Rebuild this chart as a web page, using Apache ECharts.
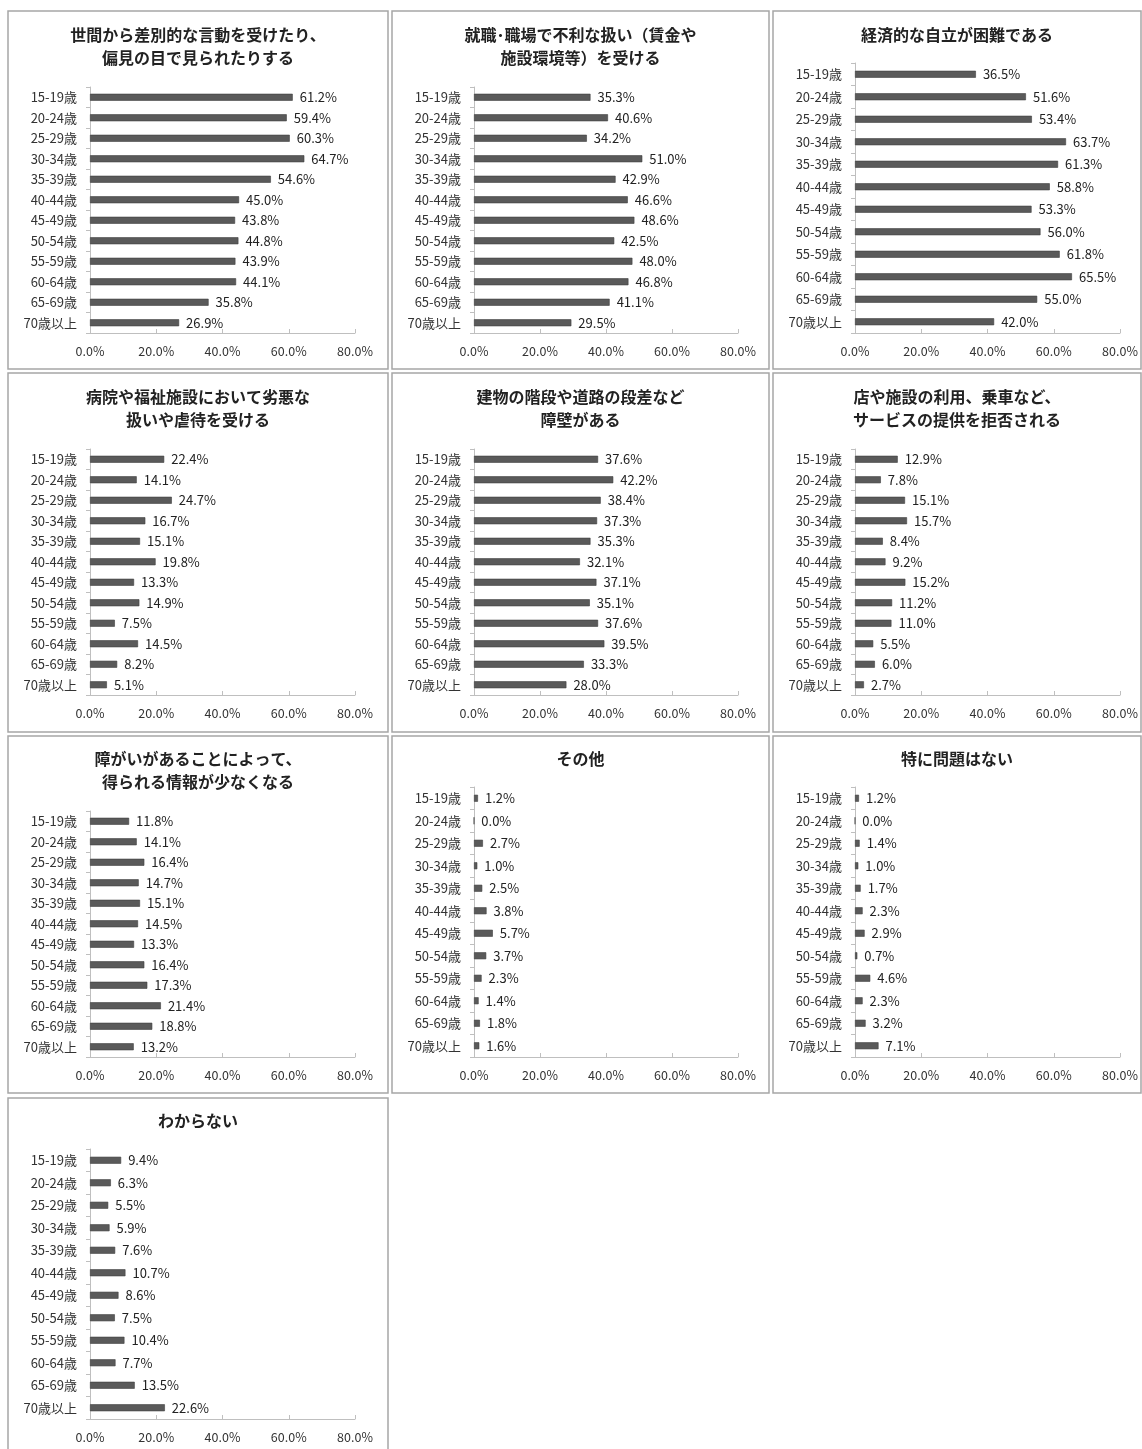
<!DOCTYPE html>
<html><head><meta charset="utf-8">
<script src="https://cdn.jsdelivr.net/npm/echarts@6/dist/echarts.min.js"></script>
<style>html,body{margin:0;padding:0;background:#fff}#c{width:1142px;height:1449px}</style>
</head><body><div id="c"></div>
<script>
var categories = ['15-19歳','20-24歳','25-29歳','30-34歳','35-39歳','40-44歳','45-49歳','50-54歳','55-59歳','60-64歳','65-69歳','70歳以上'];
var xTicks = [0, 20, 40, 60, 80];
var titles = [
  '世間から差別的な言動を受けたり、\n偏見の目で見られたりする',
  '就職･職場で不利な扱い（賃金や\n施設環境等）を受ける',
  '経済的な自立が困難である',
  '病院や福祉施設において劣悪な\n扱いや虐待を受ける',
  '建物の階段や道路の段差など\n障壁がある',
  '店や施設の利用、乗車など、\nサービスの提供を拒否される',
  '障がいがあることによって、\n得られる情報が少なくなる',
  'その他',
  '特に問題はない',
  'わからない'
];
var s1 = [61.2, 59.4, 60.3, 64.7, 54.6, 45.0, 43.8, 44.8, 43.9, 44.1, 35.8, 26.9];
var s2 = [35.3, 40.6, 34.2, 51.0, 42.9, 46.6, 48.6, 42.5, 48.0, 46.8, 41.1, 29.5];
var s3 = [36.5, 51.6, 53.4, 63.7, 61.3, 58.8, 53.3, 56.0, 61.8, 65.5, 55.0, 42.0];
var s4 = [22.4, 14.1, 24.7, 16.7, 15.1, 19.8, 13.3, 14.9, 7.5, 14.5, 8.2, 5.1];
var s5 = [37.6, 42.2, 38.4, 37.3, 35.3, 32.1, 37.1, 35.1, 37.6, 39.5, 33.3, 28.0];
var s6 = [12.9, 7.8, 15.1, 15.7, 8.4, 9.2, 15.2, 11.2, 11.0, 5.5, 6.0, 2.7];
var s7 = [11.8, 14.1, 16.4, 14.7, 15.1, 14.5, 13.3, 16.4, 17.3, 21.4, 18.8, 13.2];
var s8 = [1.2, 0.0, 2.7, 1.0, 2.5, 3.8, 5.7, 3.7, 2.3, 1.4, 1.8, 1.6];
var s9 = [1.2, 0.0, 1.4, 1.0, 1.7, 2.3, 2.9, 0.7, 4.6, 2.3, 3.2, 7.1];
var s10 = [9.4, 6.3, 5.5, 5.9, 7.6, 10.7, 8.6, 7.5, 10.4, 7.7, 13.5, 22.6];
var seriesData = [s1, s2, s3, s4, s5, s6, s7, s8, s9, s10];

var FONT = '"Noto Sans CJK JP", "Noto Sans", sans-serif';
var colL = [90, 474, 855];
var colR = [355, 738, 1120];
var panelX = [[8, 388], [392, 769], [773, 1141]];
var panelY = [[11, 369], [373, 732], [736, 1093], [1098, 1452]];
var titleY = [35, 397, 759, 1121];

var grids = [], xAxes = [], yAxes = [], series = [], titleArr = [], graphics = [];
seriesData.forEach(function (d, i) {
  var r = Math.floor(i / 3), c = i % 3;
  var twoLine = titles[i].indexOf('\n') >= 0;
  var top = titleY[r] + (twoLine ? 52 : 28);
  var bottom = titleY[r] + 298;
  grids.push({ left: colL[c], top: top, width: colR[c] - colL[c], height: bottom - top, containLabel: false });
  xAxes.push({
    type: 'value', gridIndex: i, min: 0, max: 80, interval: 20,
    axisLine: { show: true, lineStyle: { color: '#bfbfbf', width: 1 } },
    axisTick: { show: true, inside: true, length: 4, lineStyle: { color: '#bfbfbf' } },
    splitLine: { show: false },
    axisLabel: { formatter: function (v) { return v.toFixed(1) + '%'; }, color: '#333', fontSize: 12.5, fontFamily: FONT, margin: 12 }
  });
  yAxes.push({
    type: 'category', gridIndex: i, data: categories, inverse: true,
    axisLine: { show: true, lineStyle: { color: '#bfbfbf', width: 1 } },
    axisTick: { show: true, length: 4, lineStyle: { color: '#bfbfbf' } },
    axisLabel: { color: '#333', fontSize: 13, fontFamily: FONT, margin: 13 }
  });
  series.push({
    type: 'bar', xAxisIndex: i, yAxisIndex: i, data: d, barWidth: 7,
    itemStyle: { color: '#5a5a5a', borderColor: '#3f3f3f', borderWidth: 0.6 },
    label: { show: true, position: 'right', distance: 7, color: '#222', fontSize: 13, fontFamily: FONT,
      formatter: function (p) { return p.value.toFixed(1) + '%'; } },
    silent: true, animation: false
  });
  var cx = (panelX[c][0] + panelX[c][1]) / 2;
  titleArr.push({
    text: titles[i], left: cx, top: titleY[r] - 11.5, textAlign: 'center', padding: 0,
    textStyle: { fontSize: 16, fontWeight: 'bold', color: '#222', fontFamily: FONT, lineHeight: 23 }
  });
  graphics.push({
    type: 'rect', shape: { x: panelX[c][0], y: panelY[r][0], width: panelX[c][1] - panelX[c][0], height: panelY[r][1] - panelY[r][0] },
    style: { fill: 'none', stroke: '#a6a6a6', lineWidth: 1.5 }, silent: true
  });
});

var chart = echarts.init(document.getElementById('c'), null, { renderer: 'canvas' });
chart.setOption({
  backgroundColor: '#fff',
  animation: false,
  title: titleArr,
  grid: grids,
  xAxis: xAxes,
  yAxis: yAxes,
  series: series,
  graphic: graphics
});
</script></body></html>
